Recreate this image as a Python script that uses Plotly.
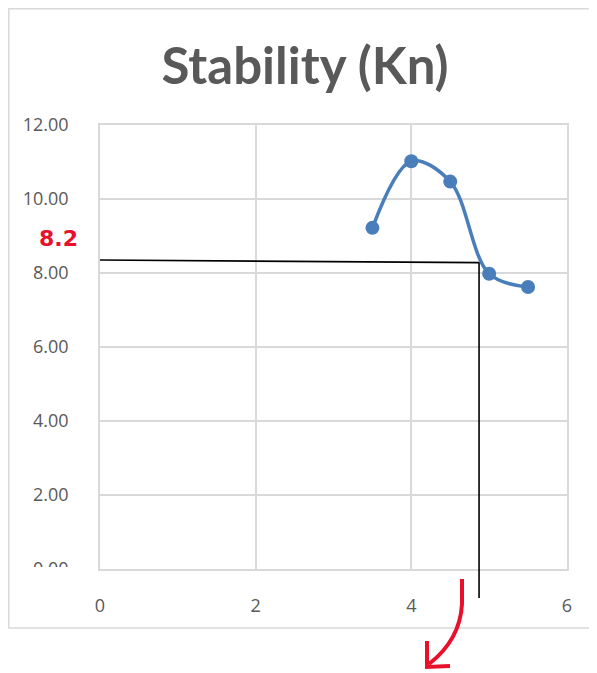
import plotly.graph_objects as go

# ---- data ----
x_vals = [3.5, 4.0, 4.5, 5.0, 5.5]
y_vals = [9.22, 11.02, 10.47, 7.98, 7.62]
y_tick_vals = [0, 2, 4, 6, 8, 10, 12]
y_tick_text = ["0.00", "2.00", "4.00", "6.00", "8.00", "10.00", "12.00"]
x_tick_vals = [0, 2, 4, 6]
x_tick_text = ["0", "2", "4", "6"]
guide_x = 4.87
guide_y_left = 8.35
guide_y_right = 8.28
red_label = "8.2"

# page body has an 8px margin; the figure starts at screen (8, 8)
OFF = 8
W, H = 597 - OFF, 673 - OFF
L, R, T, B = 92, 30, 117, 104
PW, PH = W - L - R, H - T - B

def px(xs):
    """screen x pixel -> paper fraction"""
    return (xs - OFF - L) / PW

def py(ys):
    """screen y pixel -> paper fraction"""
    return (H - B - (ys - OFF)) / PH

GRAY = "#595959"
GRID = "#D9D9D9"
BLUE = "#4A7EBB"
RED = "#E8102A"

fig = go.Figure()
fig.add_trace(go.Scatter(
    x=x_vals, y=y_vals, mode="lines+markers",
    line=dict(color=BLUE, width=3.5, shape="spline", smoothing=1.0),
    marker=dict(color=BLUE, size=14),
    showlegend=False, cliponaxis=False,
))

shapes = []
# outer chart frame
shapes.append(dict(type="rect", xref="paper", yref="paper",
                   x0=px(8.8), x1=px(602), y0=py(628), y1=py(8.8),
                   line=dict(color=GRID, width=1.5), layer="below"))
# white cover to clip bottom of 0.00 label
shapes.append(dict(type="rect", xref="paper", yref="paper",
                   x0=px(15), x1=px(95), y0=py(610), y1=py(567),
                   line=dict(width=0), fillcolor="white", layer="above"))
# black guide lines
shapes.append(dict(type="line", xref="x", yref="y",
                   x0=0, x1=guide_x, y0=guide_y_left, y1=guide_y_right,
                   line=dict(color="black", width=1.6), layer="above"))
shapes.append(dict(type="line", xref="x", yref="paper",
                   x0=guide_x, x1=guide_x, y0=py(262.5), y1=py(598),
                   line=dict(color="black", width=1.6), layer="above"))

# red arrow
def P(a, b):
    return f"{px(a)},{py(b)}"

arrow_path = f"M {P(462,579)} L {P(462,604)} Q {P(460,640)} {P(429,664)}"
shapes.append(dict(type="path", xref="paper", yref="paper", path=arrow_path,
                   line=dict(color=RED, width=4), layer="above"))
shapes.append(dict(type="path", xref="paper", yref="paper",
                   path=f"M {P(427,641)} L {P(427,667)} L {P(450,666)}",
                   line=dict(color=RED, width=4), layer="above"))

axis_common = dict(showgrid=True, gridcolor=GRID, gridwidth=1.5,
                   zeroline=False, showline=True, linecolor=GRID, linewidth=1.5,
                   mirror=True, ticks="")

fig.update_layout(
    width=W, height=H,
    margin=dict(l=L, r=R, t=T, b=B),
    paper_bgcolor="white", plot_bgcolor="white",
    title=dict(text="<b>Stability (Kn)</b>", x=(305 - OFF) / W, xanchor="center",
               y=1 - (66 - OFF) / H, yanchor="middle",
               font=dict(family="Lato", size=51, color=GRAY)),
    xaxis=dict(range=[0, 6], tickvals=x_tick_vals, ticktext=x_tick_text,
               ticklabelstandoff=20,
               tickfont=dict(family="Open Sans", size=18, color=GRAY),
               **axis_common),
    yaxis=dict(range=[0, 12], tickvals=y_tick_vals, ticktext=y_tick_text,
               ticklabelstandoff=26,
               tickfont=dict(family="Open Sans", size=18, color=GRAY),
               **axis_common),
    shapes=shapes,
    annotations=[dict(text=f"<b>{red_label}</b>", xref="paper", yref="paper",
                      x=px(58), y=py(238), xanchor="center", yanchor="middle",
                      showarrow=False,
                      font=dict(family="DejaVu Sans", size=22, color=RED))],
)

fig.write_html("out.html")
